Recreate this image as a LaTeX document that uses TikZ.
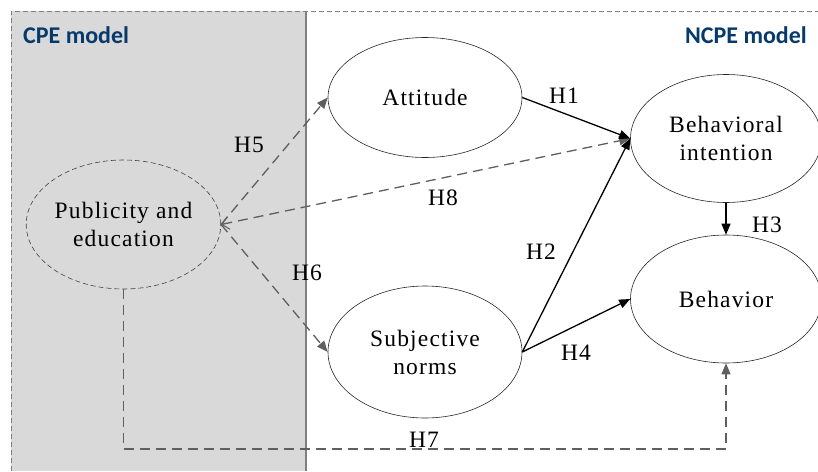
\documentclass[tikz,border=0pt]{standalone}
\usepackage{fontspec}
\setmainfont{Liberation Serif}
\newfontfamily\titlefont{Carlito}
\usetikzlibrary{shapes.geometric,arrows.meta}
\definecolor{boxgray}{HTML}{D9D9D9}
\definecolor{dashgray}{HTML}{5F5F5F}
\definecolor{edgegray}{HTML}{7F7F7F}
\definecolor{titleblue}{HTML}{073A6C}
\newcommand\myNodeFont{\fontsize{23.5}{28}\selectfont\addfontfeature{LetterSpace=5}}
\newcommand\myTitleFont{\titlefont\bfseries\fontsize{24}{28}\selectfont}
\begin{document}
\begin{tikzpicture}[x=1pt,y=-1pt,
  ell/.style={ellipse, draw=black!85, line width=0.6pt, inner sep=0pt, font=\myNodeFont, align=center},
  dline/.style={draw=dashgray, line width=1.3pt, dash pattern=on 10pt off 6pt},
  sline/.style={draw=black, line width=1.3pt},
  ghead/.style={-{Triangle[length=11pt,width=9pt,fill=dashgray]}},
  bhead/.style={-{Triangle[length=11pt,width=9pt]}},
  hlab/.style={font=\myNodeFont, inner sep=0pt},
  title/.style={font=\myTitleFont, text=titleblue, inner sep=0pt}
]
\useasboundingbox (0,0) rectangle (818,471);
% background boxes
\fill[boxgray] (11,11) rectangle (306,471);
\draw[draw=edgegray, line width=0.9pt, dash pattern=on 5pt off 3pt] (11,471) -- (11,11) -- (818,11);
\draw[draw=edgegray, line width=1.4pt] (306,11) -- (306,471);
\node[title, anchor=base west] (cpe) at (23,43) {CPE model};
\node[title, anchor=base east] (ncpe) at (807,43) {NCPE model};
% nodes
\node[ell, minimum width=194pt, minimum height=120pt] (att) at (425,97.5) {Attitude};
\node[ell, minimum width=191pt, minimum height=128pt] (bi) at (726,138.5) {Behavioral\\intention};
\node[ell, minimum width=191pt, minimum height=128pt] (beh) at (726,299) {Behavior};
\node[ell, minimum width=194pt, minimum height=132pt] (sn) at (425,352) {Subjective\\norms};
\node[ell, draw=black!75, dash pattern=on 5pt off 3pt, fill=boxgray, minimum width=193pt, minimum height=129pt] (pe) at (123.5,224.5) {Publicity and\\education};
\coordinate (h7) at (123.5,449);
% connectors
\draw[dline, ghead] (pe.east) -- (att.west);
\draw[dline, ghead] (pe.east) -- (sn.west);
\draw[dline, {Straight Barb[length=7pt,width=13pt,line width=1pt]}-{Triangle[length=11pt,width=9pt,fill=dashgray]}] (pe.east) -- (bi.west);
\draw[dline, ghead] (pe.south) -- (pe.south |- h7) -- (beh.south |- h7) -- (beh.south);
\draw[sline, bhead] (att.east) -- (bi.west);
\draw[sline, bhead] (sn.east) -- (bi.west);
\draw[sline, bhead] (sn.east) -- (beh.west);
\draw[sline, bhead] (bi.south) -- (beh.north);
% labels
\node[hlab] (l1) at (564,96) {H1};
\node[hlab] (l2) at (541,252) {H2};
\node[hlab] (l3) at (767,225) {H3};
\node[hlab] (l4) at (576,353) {H4};
\node[hlab] (l5) at (249,145) {H5};
\node[hlab] (l6) at (307,273) {H6};
\node[hlab] (l7) at (424,440) {H7};
\node[hlab] (l8) at (443,198) {H8};
\end{tikzpicture}
\end{document}
